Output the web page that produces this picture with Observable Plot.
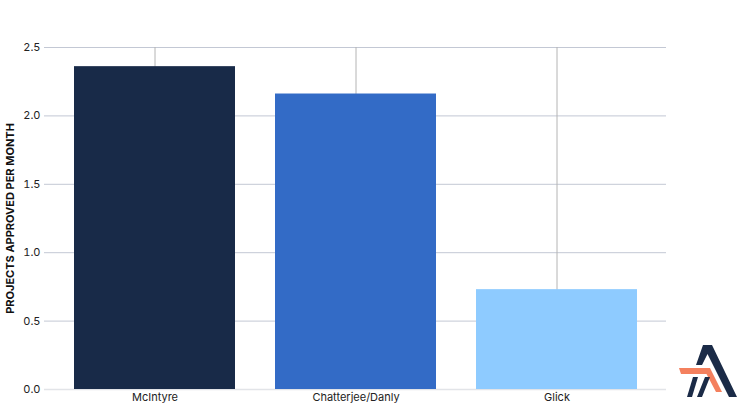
<!DOCTYPE html>
<html>
<head>
<meta charset="utf-8">
<script src="https://cdn.jsdelivr.net/npm/d3@7"></script>
<script src="https://cdn.jsdelivr.net/npm/@observablehq/plot@0.6"></script>
<style>
  html, body { margin: 0; padding: 0; background: #fff; }
  #wrap { position: relative; width: 740px; height: 408px; }
  #logo { position: absolute; left: 672px; top: 340px; }
</style>
</head>
<body>
<div id="wrap"></div>
<script>
const names = ["McIntyre", "Chatterjee/Danly", "Glick"];
const values = [2.36, 2.16, 0.73];
const colors = ["#182a48", "#336bc6", "#8ecbff"];
const yTicks = [0, 0.5, 1.0, 1.5, 2.0, 2.5];

const data = names.map((n, i) => ({name: n, value: values[i], color: colors[i]}));

const chart = Plot.plot({
  width: 740,
  height: 408,
  marginLeft: 44,
  marginRight: 74,
  marginTop: 47,
  marginBottom: 19,
  style: {fontFamily: "Inter, 'Noto Sans', sans-serif", fontSize: "11px", color: "#222"},
  x: {domain: names, paddingInner: 0.2, paddingOuter: 0.14, label: null, tickSize: 0, tickPadding: 4},
  y: {domain: [0, 2.5], ticks: yTicks, tickFormat: d3.format(".1f"), label: null, tickSize: 0, tickPadding: 4},
  marks: [
    Plot.gridY(yTicks.filter(d => d > 0), {stroke: "#c3c8d4", strokeOpacity: 1, strokeWidth: 1}),
    Plot.ruleY([0], {stroke: "#e2e4e8", strokeWidth: 1.5}),
    Plot.ruleX(names, {x: d => d, y1: 0, y2: 2.5, stroke: "#b4b4b4", strokeWidth: 1}),
    Plot.barY(data, {x: "name", y: "value", fill: "color"}),
    Plot.text(["PROJECTS APPROVED PER MONTH"], {
      frameAnchor: "left", dx: -34, rotate: -90, text: d => d, textAnchor: "middle",
      fontWeight: "bold", fontSize: 11, fill: "#111"
    })
  ]
});
document.getElementById("wrap").appendChild(chart);

// Brand logo (decorative)
const logo = `<svg id="logo" width="68" height="64" viewBox="0 0 68 64" xmlns="http://www.w3.org/2000/svg">
  <polygon points="31,5 40,5 65,57 57,57 35.5,14 30,25 24,25" fill="#1b2b47"/>
  <polygon points="7,28 38,28 50,52 44,52 34.5,34 9,34" fill="#f4805e"/>
  <polygon points="21,37 26,37 20,57 15,57" fill="#1b2b47"/>
  <polygon points="33,37 38,37 30,57 25,57" fill="#1b2b47"/>
</svg>`;
document.getElementById("wrap").insertAdjacentHTML("beforeend", logo);
</script>
</body>
</html>
